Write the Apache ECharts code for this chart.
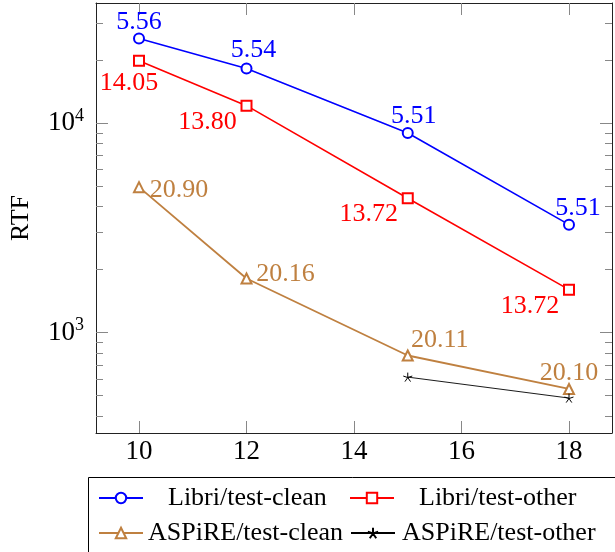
<!DOCTYPE html>
<html>
<head>
<meta charset="utf-8">
<script src="https://cdn.jsdelivr.net/npm/echarts@6/dist/echarts.min.js"></script>
<style>
html,body{margin:0;padding:0;background:#fff;}
#c{width:615px;height:552px;}
</style>
</head>
<body>
<div id="c"></div>
<script>
// ---- data ----
const xValues = [10, 12, 15, 18];
const libriCleanRTF = [25300, 18200, 8960, 3270];
const libriOtherRTF = [19800, 12100, 4370, 1600];
const aspireCleanRTF = [4940, 1810, 776, 537];
const aspireOtherX = [15, 18];
const aspireOtherRTF = [612, 486];
const libriCleanWER = ['5.56', '5.54', '5.51', '5.51'];
const libriOtherWER = ['14.05', '13.80', '13.72', '13.72'];
const aspireCleanWER = ['20.90', '20.16', '20.11', '20.10'];
const xTickValues = [10, 12, 14, 16, 18];
const yTickValues = [400, 500, 600, 700, 800, 900, 1000, 2000, 3000, 4000, 5000, 6000, 7000, 8000, 9000, 10000, 20000, 30000];
const seriesNames = ['Libri/test-clean', 'Libri/test-other', 'ASPiRE/test-clean', 'ASPiRE/test-other'];

// ---- layout / style ----
const X_MIN = 9.2, X_MAX = 18.8, Y_MIN = 331, Y_MAX = 37400;
const FONT = 'Liberation Serif, Times New Roman, serif';
const BLUE = '#0000ff', RED = '#ff0000', BROWN = '#bf8040', BLACK = '#000000';
const blueOffsets = [[0, -16], [7, -18], [6, -17], [9, -16]];
const redOffsets = [[-10, 22], [-39, 17], [-39, 16], [-39, 16]];
const brownOffsets = [[40, 3], [39, -4], [32, -15], [0, -16]];

function pts(xs, ys, labels, offsets, color) {
  return xs.map((x, i) => {
    const item = { value: [x, ys[i]] };
    if (labels) {
      item.label = {
        show: true, formatter: labels[i], position: 'inside',
        offset: offsets[i], color: color, fontSize: 26, fontFamily: FONT,
        align: 'center', verticalAlign: 'middle'
      };
    }
    return item;
  });
}
function isPow10(v) { const l = Math.log10(v); return Math.abs(l - Math.round(l)) < 1e-9; }

const axisLineStyle = { show: true, lineStyle: { color: '#222', width: 1 } };
const tickStyle = { show: true, inside: true, length: 12, lineStyle: { color: '#888', width: 1 } };

const chart = echarts.init(document.getElementById('c'), null, { renderer: 'canvas' });

function legendItem(name, left, top, pad) {
  return {
    data: [name], left: left, top: top, padding: 0, orient: 'horizontal',
    itemWidth: 44, itemHeight: 13, selectedMode: false,
    formatter: '{p|{name}}',
    textStyle: { fontSize: 26, fontFamily: FONT, color: '#000',
      rich: { p: { fontSize: 26, fontFamily: FONT, color: '#000', padding: [0, 0, 0, pad] } } }
  };
}

const option = {
  animation: false,
  backgroundColor: '#fff',
  grid: { left: 95, right: 3, top: 3, bottom: 119, containLabel: false },
  xAxis: [
    { type: 'value', min: X_MIN, max: X_MAX, position: 'bottom',
      axisLine: axisLineStyle, splitLine: { show: false },
      axisTick: Object.assign({ customValues: xTickValues }, tickStyle),
      axisLabel: { customValues: xTickValues, fontSize: 27, fontFamily: FONT, color: '#000', margin: 5 } },
    { type: 'value', min: X_MIN, max: X_MAX, position: 'top',
      axisLine: axisLineStyle, splitLine: { show: false },
      axisTick: Object.assign({ customValues: xTickValues }, tickStyle),
      axisLabel: { show: false } }
  ],
  yAxis: [
    { type: 'log', logBase: 10, min: Y_MIN, max: Y_MAX, position: 'left',
      name: 'RTF', nameLocation: 'middle', nameGap: 62,
      nameTextStyle: { fontSize: 26, fontFamily: FONT, color: '#000' },
      axisLine: axisLineStyle, splitLine: { show: false }, axisTick: { show: false },
      axisLabel: {
        showMinLabel: false, showMaxLabel: false, margin: 12,
        formatter: v => isPow10(v) ? '{b|10}{s|' + Math.round(Math.log10(v)) + '}' : '',
        rich: {
          b: { fontSize: 27, fontFamily: FONT, color: '#000' },
          s: { fontSize: 18, fontFamily: FONT, color: '#000', padding: [0, 0, 14, 0] }
        }
      } },
    { type: 'log', logBase: 10, min: Y_MIN, max: Y_MAX, position: 'right',
      axisLine: axisLineStyle, splitLine: { show: false }, axisTick: { show: false },
      axisLabel: { show: false } }
  ],
  legend: [
    legendItem(seriesNames[0], 98, 485, 20),
    legendItem(seriesNames[1], 349, 485, 20),
    legendItem(seriesNames[2], 98, 520, 0),
    legendItem(seriesNames[3], 350, 520, 2)
  ],
  graphic: [
    { type: 'rect', shape: { x: 88.5, y: 477.5, width: 600, height: 100 },
      style: { fill: 'none', stroke: '#000', lineWidth: 1 }, z: 0 }
  ],
  series: [
    { type: 'custom', silent: true, clip: false, z: 1,
      data: yTickValues.map(v => [X_MIN, v]),
      renderItem: (params, api) => {
        const v = api.value(1);
        const len = isPow10(v) ? 12 : 7;
        const p1 = api.coord([X_MIN, v]);
        const p2 = api.coord([X_MAX, v]);
        const y = Math.round(p1[1]) + 0.5;
        return { type: 'group', children: [
          { type: 'line', shape: { x1: p1[0], y1: y, x2: p1[0] + len, y2: y }, style: { stroke: '#888', lineWidth: 1 } },
          { type: 'line', shape: { x1: p2[0] - len, y1: y, x2: p2[0], y2: y }, style: { stroke: '#888', lineWidth: 1 } }
        ] };
      } },
    { name: seriesNames[0], type: 'line', z: 5, data: pts(xValues, libriCleanRTF, libriCleanWER, blueOffsets, BLUE),
      symbol: 'emptyCircle', symbolSize: 10, lineStyle: { color: BLUE, width: 1.6 },
      itemStyle: { color: BLUE, borderColor: BLUE, borderWidth: 1.6 } },
    { name: seriesNames[1], type: 'line', z: 5, data: pts(xValues, libriOtherRTF, libriOtherWER, redOffsets, RED),
      symbol: 'emptyRect', symbolSize: 10, lineStyle: { color: RED, width: 1.6 },
      itemStyle: { color: RED, borderColor: RED, borderWidth: 1.6 } },
    { name: seriesNames[2], type: 'line', z: 5, data: pts(xValues, aspireCleanRTF, aspireCleanWER, brownOffsets, BROWN),
      symbol: 'emptyTriangle', symbolSize: 10, lineStyle: { color: BROWN, width: 1.8 },
      itemStyle: { color: BROWN, borderColor: BROWN, borderWidth: 1.8 } },
    { name: seriesNames[3], type: 'line', z: 5, data: pts(aspireOtherX, aspireOtherRTF, null, null, BLACK),
      symbol: 'path://M0,-1L0,0M0.951,-0.309L0,0M0.588,0.809L0,0M-0.588,0.809L0,0M-0.951,-0.309L0,0',
      symbolSize: 9, lineStyle: { color: BLACK, width: 0.9 },
      itemStyle: { color: BLACK, borderColor: BLACK, borderWidth: 1 } }
  ]
};
chart.setOption(option);
</script>
</body>
</html>
